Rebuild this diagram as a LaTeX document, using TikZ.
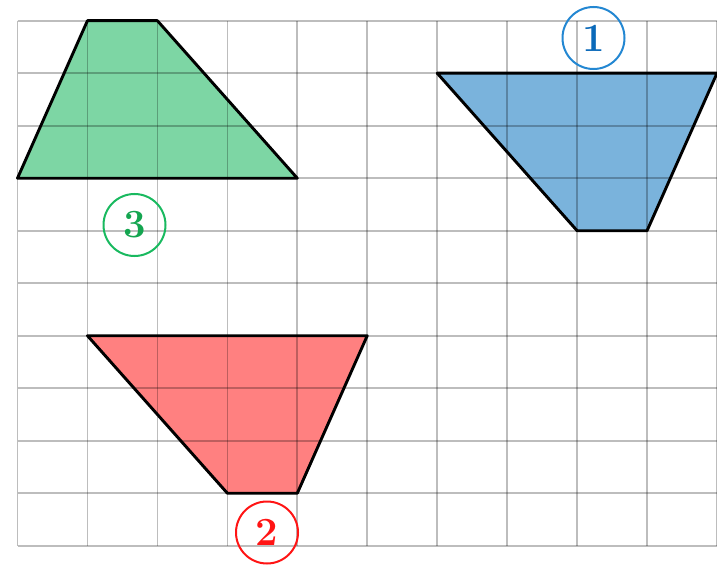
\documentclass[tikz,border=0pt]{standalone}
\begin{document}
\begin{tikzpicture}[x=1pt,y=-1pt,
  gridline/.style={draw=black,draw opacity=0.26,line width=1.7pt},
  outline/.style={draw=black,line width=2.9pt,line join=round},
  badge/.style={circle,minimum size=62pt,inner sep=0pt,line width=2pt,
    font=\fontsize{40}{44}\selectfont\bfseries}]
\definecolor{gfill}{RGB}{125,214,164}
\definecolor{bfill}{RGB}{122,179,220}
\definecolor{rfill}{RGB}{255,128,128}
\definecolor{gline}{RGB}{25,185,95}
\definecolor{gtext}{RGB}{20,165,80}
\definecolor{bline}{RGB}{35,135,210}
\definecolor{btext}{RGB}{10,105,185}
\definecolor{rline}{RGB}{255,20,20}
\useasboundingbox (0,0) rectangle (717,567);
\begin{scope}[shift={(17.5,20.7)},x=69.95pt,y=-52.5pt]
  % fills
  \fill[gfill] (1,0) -- (2,0) -- (4,3) -- (0,3) -- cycle;
  \fill[bfill] (6,1) -- (10,1) -- (9,4) -- (8,4) -- cycle;
  \fill[rfill] (1,6) -- (5,6) -- (4,9) -- (3,9) -- cycle;
  % grid
  \foreach \i in {0,...,10} \draw[gridline] (\i,0) -- (\i,10);
  \foreach \j in {0,...,10} \draw[gridline] (0,\j) -- (10.3,\j);
  % outlines
  \draw[outline] (1,0) -- (2,0) -- (4,3) -- (0,3) -- cycle;
  \draw[outline] (6,1) -- (10,1) -- (9,4) -- (8,4) -- cycle;
  \draw[outline] (1,6) -- (5,6) -- (4,9) -- (3,9) -- cycle;
\end{scope}
\node[badge,draw=bline,text=btext] (one) at (593.5,38) {1};
\node[badge,draw=rline,text=rline] (two) at (267,532.5) {2};
\node[badge,draw=gline,text=gtext] (three) at (134.5,225) {3};
\end{tikzpicture}
\end{document}
